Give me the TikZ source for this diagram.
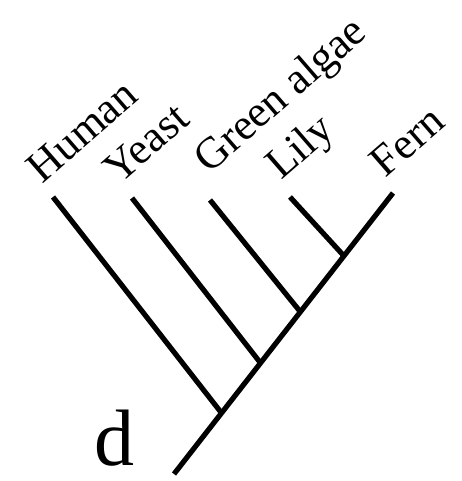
\documentclass[tikz,border=0pt]{standalone}
\usepackage{fontspec}
\setmainfont{Liberation Serif}
\begin{document}
\begin{tikzpicture}[x=1pt,y=-1pt,
  branch/.style={line width=5.2pt, line cap=butt},
  taxon/.style={inner sep=0pt, rotate=41, font=\fontsize{44}{44}\selectfont},
  biglabel/.style={inner sep=0pt, font=\fontsize{80}{80}\selectfont}]
\useasboundingbox (0,0) rectangle (462,481);
\coordinate (root) at (174,474);
\coordinate (fern) at (393,193);
\coordinate (human) at (53,197);
\coordinate (yeast) at (132,198);
\coordinate (algae) at (210,200);
\coordinate (lily) at (290,197);
\path (root) -- (fern)
  coordinate[pos=0.217] (jh)
  coordinate[pos=0.395] (jy)
  coordinate[pos=0.577] (ja)
  coordinate[pos=0.776] (jl);
\draw[branch] (root) -- (fern);
\draw[branch] (human) -- (jh);
\draw[branch] (yeast) -- (jy);
\draw[branch] (algae) -- (ja);
\draw[branch] (lily) -- (jl);
\node[taxon] (tHuman) at (82,131) {Human};
\node[taxon] (tYeast) at (146,143) {Yeast};
\node[taxon] (tAlgae) at (282,97) {Green algae};
\node[taxon] (tLily) at (302,149) {Lily};
\node[taxon] (tFern) at (407,141) {Fern};
\node[biglabel] (d) at (114,438) {d};
\end{tikzpicture}
\end{document}
